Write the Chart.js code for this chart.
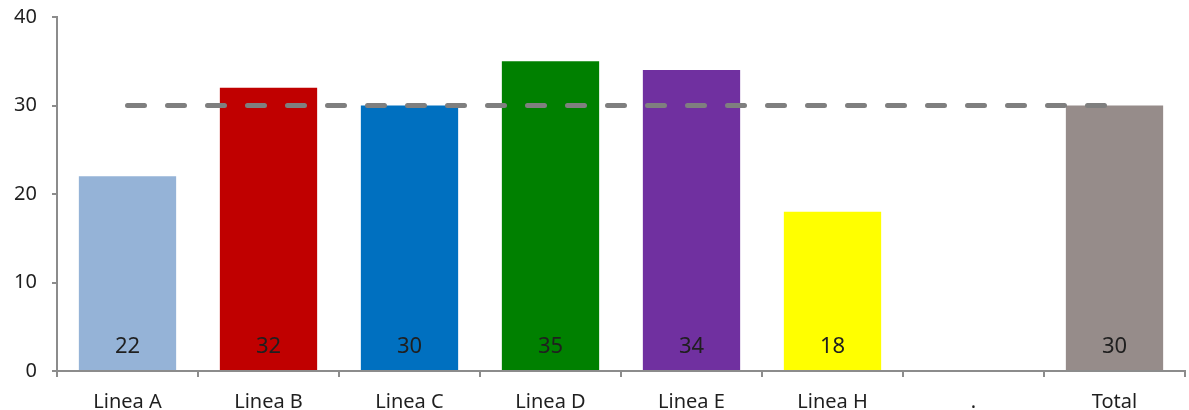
<!DOCTYPE html>
<html>
<head>
<meta charset="utf-8">
<script src="https://cdn.jsdelivr.net/npm/chart.js@4/dist/chart.umd.min.js"></script>
<style>
  html, body { margin: 0; padding: 0; background: #fff; }
  #wrap { width: 1189px; height: 410px; }
</style>
</head>
<body>
<div id="wrap"><canvas id="c" width="1189" height="410"></canvas></div>
<script>
const categories = ['Linea A', 'Linea B', 'Linea C', 'Linea D', 'Linea E', 'Linea H', '.', 'Total'];
const values = [22, 32, 30, 35, 34, 18, null, 30];
const barColors = ['#95B3D7', '#C00000', '#0070C0', '#008000', '#7030A0', '#FFFF00', '#FFFFFF', '#968C8A'];
const target = [30, 30, 30, 30, 30, 30, 30, 30];
const yTicks = [0, 10, 20, 30, 40];

const FONT = '"Noto Sans", sans-serif';
const AXIS = '#8C8C8C';
const TEXT = '#1F1F1F';

// writes each bar's value near its base
const barValueLabels = {
  id: 'barValueLabels',
  afterDatasetsDraw(chart) {
    const ctx = chart.ctx;
    const meta = chart.getDatasetMeta(1);
    ctx.save();
    ctx.font = '22px ' + FONT;
    ctx.fillStyle = TEXT;
    ctx.textAlign = 'center';
    ctx.textBaseline = 'middle';
    meta.data.forEach((bar, i) => {
      const v = values[i];
      if (v === null || v === undefined) return;
      ctx.fillText(String(v), bar.x, bar.base - 23);
    });
    ctx.restore();
  }
};

new Chart(document.getElementById('c'), {
  data: {
    labels: categories,
    datasets: [
      {
        type: 'line',
        data: target,
        borderColor: '#7F7F7F',
        borderWidth: 5,
        borderDash: [17, 23],
        borderCapStyle: 'round',
        pointRadius: 0,
        fill: false,
        order: 0
      },
      {
        type: 'bar',
        data: values,
        backgroundColor: barColors,
        barPercentage: 0.69,
        categoryPercentage: 1.0,
        order: 1
      }
    ]
  },
  options: {
    responsive: false,
    animation: false,
    layout: { padding: { top: 17, right: 4, left: 0, bottom: 0 } },
    plugins: { legend: { display: false }, tooltip: { enabled: false } },
    scales: {
      x: {
        offset: true,
        grid: { offset: true, drawOnChartArea: false, tickLength: 6, color: AXIS, lineWidth: 2 },
        border: { color: AXIS, width: 2 },
        ticks: { font: { family: FONT, size: 20 }, color: TEXT, padding: 13 },
        afterFit(s) { s.height = 39; }
      },
      y: {
        min: 0, max: 40,
        afterBuildTicks(s) { s.ticks = yTicks.map(v => ({ value: v })); },
        grid: { drawOnChartArea: false, tickLength: 5, color: AXIS, lineWidth: 2 },
        border: { color: AXIS, width: 2 },
        ticks: { font: { family: FONT, size: 20 }, color: TEXT, padding: 15 },
        afterFit(s) { s.width = 57; s.paddingTop = 0; s.paddingBottom = 0; }
      }
    }
  },
  plugins: [barValueLabels]
});
</script>
</body>
</html>
